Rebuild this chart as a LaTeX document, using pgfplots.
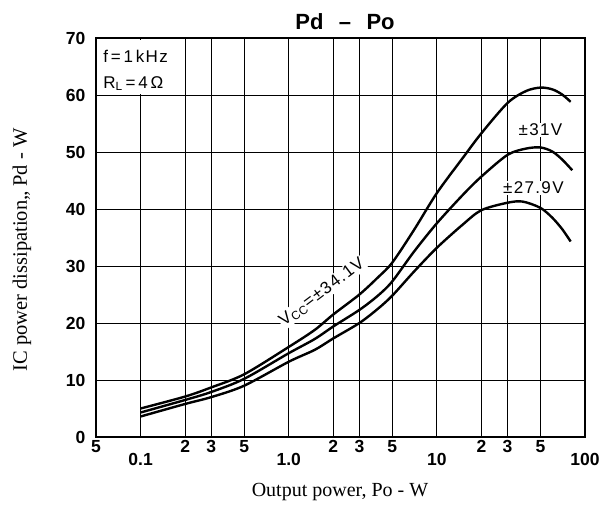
\documentclass[border=0pt]{standalone}
\usepackage{fontspec}
\setmainfont{Liberation Serif}
\newfontfamily\hv{Liberation Sans}
\newfontfamily\hvw[LetterSpace=8]{Liberation Sans}
\usepackage{pgfplots}
\pgfplotsset{compat=1.18}
\begin{document}
\begin{tikzpicture}[x=1pt,y=1pt]
\useasboundingbox (-96,-67) rectangle (505,437);
\begin{axis}[
  at={(0,0)}, anchor=south west,
  width=489pt, height=399pt, scale only axis,
  xmode=log, xmin=0.05, xmax=100, ymin=0, ymax=70,
  xtick={0.05,0.2,0.3,0.5,2,3,5,20,30,50},
  xticklabels={5,2,3,5,2,3,5,2,3,5},
  extra x ticks={0.1,1,10,100},
  extra x tick labels={0.1,1.0,10,100},
  extra x tick style={grid=major, xticklabel style={yshift=-13pt}},
  ytick={0,10,...,70},
  yticklabels={0,10,20,30,40,50,60,70},
  grid=major,
  major grid style={black, line width=0.9pt},
  axis line style={line width=1.6pt},
  major tick length=0pt,
  tick label style={font=\hv\bfseries\fontsize{17.5}{17.5}\selectfont},
  yticklabel style={xshift=-7pt},
  clip=false,
]
% condition box over the grid
\fill[white] (axis cs:0.0515,60.25) rectangle (axis cs:0.197,69.6);
% Vcc = +-34.1 V
\addplot[black, line width=2.4pt, smooth] coordinates {
  (0.1,5.0) (0.2,7.1) (0.3,8.7) (0.5,11.0) (1,15.8) (1.5,18.8) (2,21.5)
  (3,25.0) (4,28.0) (5,30.6) (7,36.3) (10,42.8) (15,49.0) (20,53.3)
  (30,58.6) (40,60.7) (50,61.3) (60,61.0) (70,60.1) (80,58.8)
};
% Vcc = +-31 V
\addplot[black, line width=2.4pt, smooth] coordinates {
  (0.1,4.3) (0.2,6.5) (0.3,7.9) (0.5,10.2) (1,14.7) (1.5,17.2) (2,19.4)
  (3,22.3) (4,24.8) (5,27.3) (7,32.5) (10,37.5) (15,42.5) (20,45.7)
  (30,49.5) (40,50.6) (50,50.8) (60,50.1) (70,48.7) (82,46.8)
};
% Vcc = +-27.9 V
\addplot[black, line width=2.4pt, smooth] coordinates {
  (0.1,3.6) (0.2,5.8) (0.3,7.0) (0.5,9.0) (1,13.2) (1.5,15.3) (2,17.3)
  (3,20.0) (4,22.5) (5,24.8) (7,29.0) (10,33.2) (15,37.3) (20,39.8)
  (30,41.1) (38,41.3) (50,40.2) (60,38.5) (70,36.5) (80,34.3)
};
\node[anchor=west, font=\hvw\fontsize{17}{17}\selectfont] at (axis cs:0.053,66.7) {f\,=\,1\,kHz};
\node[anchor=west, font=\hvw\fontsize{17}{17}\selectfont] at (axis cs:0.053,62.0) {R\textsubscript{L}\,=\,4\,Ω};
\node[rotate=37, fill=white, inner sep=1pt, font=\hvw\fontsize{17}{17}\selectfont] at (axis cs:1.68,25.4) {V\textsubscript{CC}=±34.1V};
\node[fill=white, inner sep=1pt, font=\hvw\fontsize{17}{17}\selectfont] at (axis cs:50,53.9) {±31V};
\node[fill=white, inner sep=1pt, font=\hvw\fontsize{17}{17}\selectfont] at (axis cs:44.8,43.7) {±27.9V};
\end{axis}
\node[font=\hv\bfseries\fontsize{22}{22}\selectfont] at (249,415) {Pd\hspace{0.7em}–\hspace{0.7em}Po};
\node[rotate=90, font=\fontsize{20.5}{20.5}\selectfont] at (-74,187) {IC power dissipation,, Pd - W};
\node[font=\fontsize{20}{20}\selectfont] at (244,-55) {Output power, Po - W};
\end{tikzpicture}
\end{document}
